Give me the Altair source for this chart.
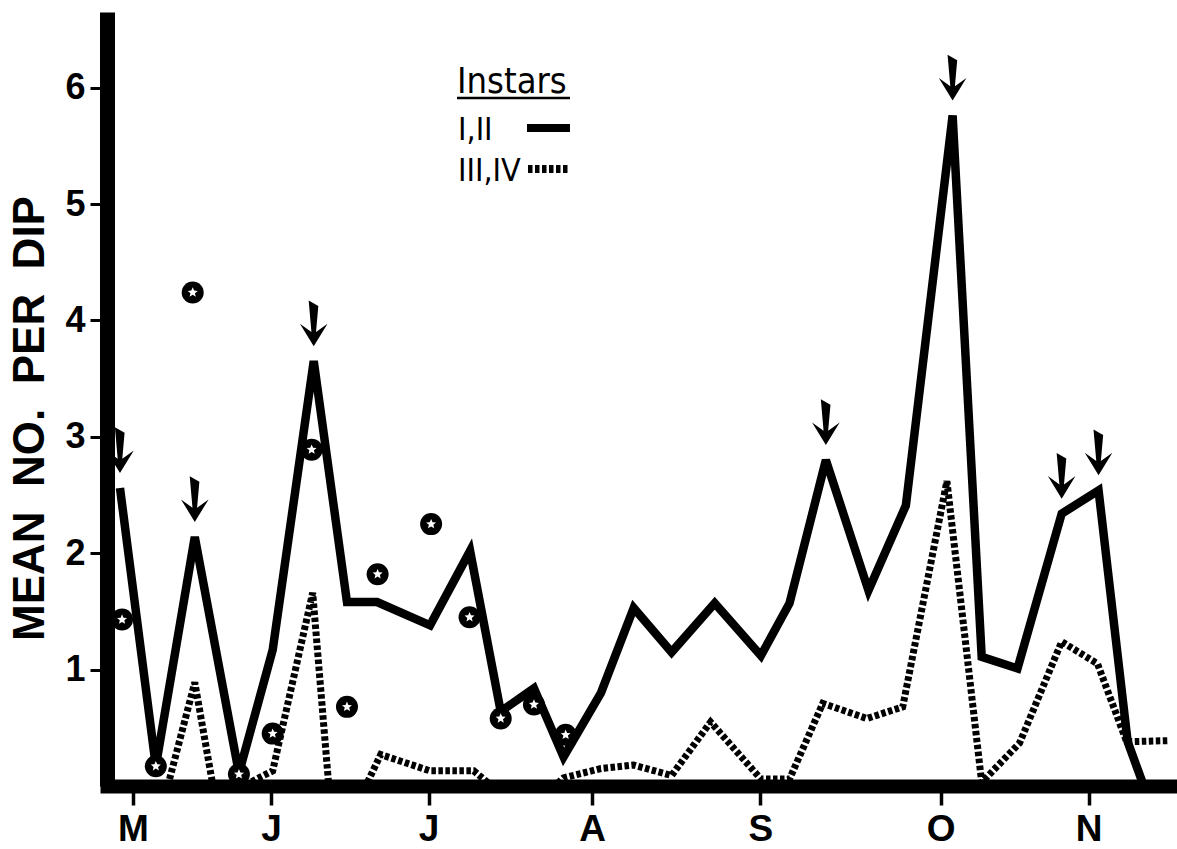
import json
import math
import altair as alt
import pandas as pd

# ---------------- data ----------------
# x unit: approximate day number counted from the "M" tick
solid_day = [-2.5, 4.4, 11.9, 20.4, 26.9, 34.8, 41.2, 47.0, 57.2, 64.9, 70.8, 77.2, 82.9,
             90.1, 96.4, 103.7, 112.0, 120.9, 126.4, 133.4, 141.6, 148.8, 157.8, 163.4,
             170.3, 178.8, 185.9, 191.5, 194.6]
solid_val = [2.56, 0.17, 2.14, 0.11, 1.17, 3.65, 1.58, 1.58, 1.38, 2.02, 0.64, 0.84, 0.25,
             0.80, 1.53, 1.15, 1.57, 1.12, 1.57, 2.80, 1.68, 2.41, 5.76, 1.11,
             1.01, 2.34, 2.54, 0.38, 0.0]

dashed_day = [6.7, 11.9, 15.4, 21.2, 26.9, 34.6, 37.7, 44.8, 47.7, 57.2, 65.6, 69.1, 81.2,
              82.9, 90.1, 96.4, 103.7, 111.2, 120.9, 126.4, 132.8, 141.3, 148.2, 156.7,
              163.4, 170.7, 178.8, 185.7, 191.3, 199.4]
dashed_val = [0.0, 0.89, 0.0, 0.0, 0.13, 1.66, 0.0, 0.0, 0.27, 0.13, 0.13, 0.0, 0.0,
              0.07, 0.15, 0.18, 0.09, 0.55, 0.06, 0.06, 0.71, 0.58, 0.68, 2.62,
              0.03, 0.37, 1.24, 1.05, 0.38, 0.39]

circle_day = [-2.1, 4.4, 11.5, 20.4, 26.9, 34.4, 41.2, 47.1, 57.4, 64.8, 70.8, 77.2, 83.3]
circle_val = [1.43, 0.17, 4.24, 0.10, 0.45, 2.89, 0.68, 1.82, 2.25, 1.45, 0.58, 0.70, 0.44]

arrow_index = [0, 2, 5, 19, 22, 25, 26]   # solid-line peaks marked by arrows

month_ticks = [0, 26.6, 56.9, 88.4, 120.8, 155.5, 184.0]
month_labels = ["M", "J", "J", "A", "S", "O", "N"]
y_ticks = [1, 2, 3, 4, 5, 6]

y_title = "MEAN\u00a0 NO.\u00a0 PER\u00a0 DIP"
legend_title = "Instars"
legend_labels = ["I,II", "III,IV"]

# ---------------- tables ----------------
solid_df = pd.DataFrame({"day": solid_day, "val": solid_val})
dashed_df = pd.DataFrame({"day": dashed_day, "val": dashed_val})
circle_df = pd.DataFrame({"day": circle_day, "val": circle_val})
arrow_df = solid_df.iloc[arrow_index].reset_index(drop=True)
one = pd.DataFrame({"k": [0]})

# ---------------- shapes ----------------
star_pts = []
for k in range(10):
    r = 1.0 if k % 2 == 0 else 0.45
    a = math.radians(-90 + 36 * k)
    star_pts.append(f"{r * math.cos(a):.3f},{r * math.sin(a):.3f}")
star_path = "M" + " L".join(star_pts) + " Z"
arrow_path = "M-0.22,-0.99 L0.2,-0.75 L0.1,0.38 L0.6,0.02 L0,1 L-0.6,0.02 L-0.1,0.38 Z"

label_expr = f"{json.dumps(month_labels)}[indexof({json.dumps(month_ticks)}, datum.value)]"

FONT = "Liberation Sans"
NARROW = "Liberation Sans Narrow, DejaVu Sans Condensed, Liberation Sans"

x_scale = alt.Scale(domain=[-5, 201], nice=False, zero=False)
y_scale = alt.Scale(domain=[0, 6.65], nice=False, zero=True)

x_axis = alt.Axis(values=month_ticks, labelExpr=label_expr, title=None, grid=False,
                  domainWidth=14, domainColor="black", domainCap="square",
                  tickSize=19, tickWidth=3.5, tickColor="black",
                  labelFont=FONT, labelFontSize=37, labelFontWeight="bold", labelColor="black",
                  labelPadding=6, labelFlush=False, labelOverlap=False, zindex=1)
y_axis = alt.Axis(values=y_ticks, title=y_title, grid=False,
                  domainWidth=15, domainColor="black",
                  tickSize=17, tickWidth=3, tickColor="black",
                  labelFont=FONT, labelFontSize=36, labelFontWeight="bold", labelColor="black",
                  labelPadding=5,
                  titleFont=FONT, titleFontSize=44, titleFontWeight="bold", titleColor="black",
                  titleAngle=270, titleX=-64, titleY=406, titleAlign="center",
                  titleBaseline="alphabetic", zindex=1)

X = alt.X("day:Q", scale=x_scale, axis=x_axis)
Y = alt.Y("val:Q", scale=y_scale, axis=y_axis)

dashed = alt.Chart(dashed_df).mark_line(color="black", strokeWidth=7, strokeDash=[4.5, 2.5],
                                         strokeJoin="miter", strokeMiterLimit=3).encode(x=X, y=Y)
solid = alt.Chart(solid_df).mark_line(color="black", strokeWidth=8.5, strokeJoin="miter",
                                       strokeMiterLimit=3).encode(x=X, y=Y)
circles = alt.Chart(circle_df).mark_point(shape="circle", filled=True, color="black",
                                          size=484, opacity=1).encode(x=X, y=Y)
stars = alt.Chart(circle_df).mark_point(shape=star_path, filled=True, color="white",
                                        size=110, opacity=1).encode(x=X, y=Y)
arrows = alt.Chart(arrow_df).mark_point(shape=arrow_path, filled=True, color="black",
                                        size=2116, opacity=1, yOffset=-38).encode(x=X, y=Y)

# ---------------- legend (annotation) ----------------
leg_title = alt.Chart(one).mark_text(text=legend_title, font=NARROW, fontSize=36, align="left",
                                     baseline="alphabetic", color="black").encode(
    x=alt.value(350), y=alt.value(81))
leg_underline = alt.Chart(one).mark_rule(color="black", strokeWidth=2.5).encode(
    x=alt.value(350), x2=alt.value(463), y=alt.value(86))
leg_l1 = alt.Chart(one).mark_text(text=legend_labels[0], font=NARROW, fontSize=32, align="left",
                                  baseline="alphabetic", color="black").encode(
    x=alt.value(351), y=alt.value(128))
leg_l2 = alt.Chart(one).mark_text(text=legend_labels[1], font=NARROW, fontSize=32, align="left",
                                  baseline="alphabetic", color="black").encode(
    x=alt.value(351), y=alt.value(169))
leg_solid = alt.Chart(one).mark_rule(color="black", strokeWidth=8).encode(
    x=alt.value(420), x2=alt.value(463), y=alt.value(116))
leg_dash = alt.Chart(one).mark_rule(color="black", strokeWidth=8, strokeDash=[4.5, 2.5]).encode(
    x=alt.value(421), x2=alt.value(463), y=alt.value(157))

chart = alt.layer(dashed, solid, circles, stars, arrows,
                  leg_title, leg_underline, leg_l1, leg_l2, leg_solid, leg_dash).properties(
    width=1070, height=774,
    autosize=alt.AutoSizeParams(type="none"),
    padding={"left": 107, "top": 12, "right": 0, "bottom": 63},
    background="white",
).configure_view(stroke=None)

chart.save("out.html", embed_options={"renderer": "svg", "actions": False})
